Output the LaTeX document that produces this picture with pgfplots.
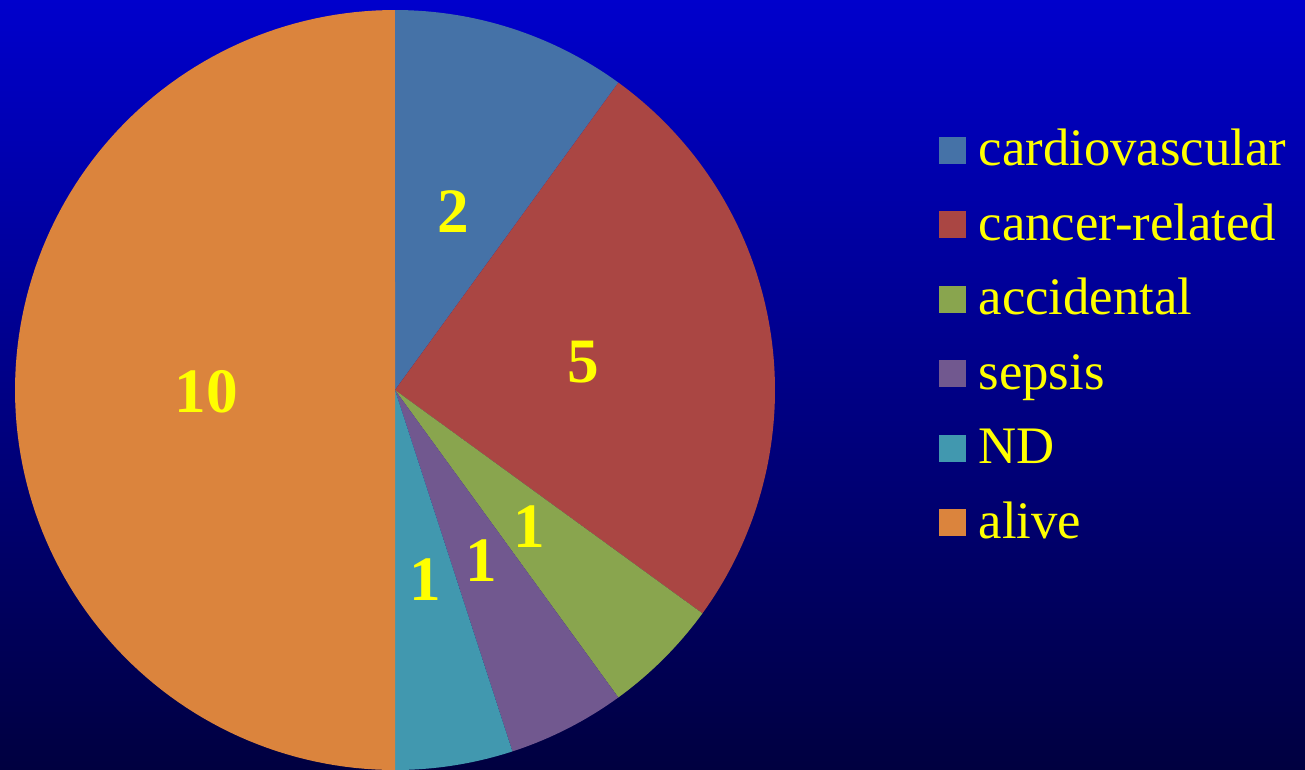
\documentclass[border=0pt]{standalone}
\usepackage{fontspec}
\setmainfont{Liberation Serif}
\usepackage{pgfplots}
\pgfplotsset{compat=1.18}
\definecolor{bgtop}{HTML}{0000CC}
\definecolor{bgbot}{HTML}{000040}
\definecolor{cCV}{HTML}{4572A7}
\definecolor{cCA}{HTML}{AA4643}
\definecolor{cAC}{HTML}{89A54E}
\definecolor{cSE}{HTML}{71588F}
\definecolor{cND}{HTML}{4198AF}
\definecolor{cAL}{HTML}{DB843D}
\definecolor{lab}{HTML}{FFFF00}
\begin{document}
\begin{tikzpicture}
\begin{axis}[
  scale only axis, width=13.05cm, height=7.69cm,
  xmin=0, xmax=1305, ymin=0, ymax=769,
  hide axis,
  legend cell align=left,
  legend image code/.code={\path[#1,draw=none] (0cm,-0.11cm) rectangle (0.27cm,0.16cm);},
  legend style={at={(axis cs:938,654)}, anchor=north west, draw=none, fill=none,
    inner sep=0pt, row sep=0pt, text=lab,
    font=\fontsize{15pt}{17pt}\selectfont,
    nodes={inner sep=0pt, text height=0.5cm, text depth=0.245cm},
    /tikz/every odd column/.style={column sep=0.13cm}},
]
\path[top color=bgtop, bottom color=bgbot] (rel axis cs:0,0) rectangle (rel axis cs:1,1);
% slices: values 2,5,1,1,1,10 (total 20); angle = 18 deg per unit, clockwise from top
\addplot[fill=cCV, draw=none, domain=0:2, samples=40, variable=\t]
  ({395+380*sin(18*\t)},{379+380*cos(18*\t)}) -- (axis cs:395,379) -- cycle;
\addlegendentry{cardiovascular}
\addplot[fill=cCA, draw=none, domain=2:7, samples=80, variable=\t]
  ({395+380*sin(18*\t)},{379+380*cos(18*\t)}) -- (axis cs:395,379) -- cycle;
\addlegendentry{cancer-related}
\addplot[fill=cAC, draw=none, domain=7:8, samples=20, variable=\t]
  ({395+380*sin(18*\t)},{379+380*cos(18*\t)}) -- (axis cs:395,379) -- cycle;
\addlegendentry{accidental}
\addplot[fill=cSE, draw=none, domain=8:9, samples=20, variable=\t]
  ({395+380*sin(18*\t)},{379+380*cos(18*\t)}) -- (axis cs:395,379) -- cycle;
\addlegendentry{sepsis}
\addplot[fill=cND, draw=none, domain=9:10, samples=20, variable=\t]
  ({395+380*sin(18*\t)},{379+380*cos(18*\t)}) -- (axis cs:395,379) -- cycle;
\addlegendentry{ND}
\addplot[fill=cAL, draw=none, domain=10:20, samples=120, variable=\t]
  ({395+380*sin(18*\t)},{379+380*cos(18*\t)}) -- (axis cs:395,379) -- cycle;
\addlegendentry{alive}
\begin{scope}[every node/.style={text=lab, font=\fontsize{18pt}{20pt}\selectfont\bfseries, inner sep=0pt}]
\node at (axis cs:453,557) {2};
\node at (axis cs:583,407) {5};
\node at (axis cs:529,242) {1};
\node at (axis cs:481,208) {1};
\node at (axis cs:425,189) {1};
\node at (axis cs:206,377) {10};
\end{scope}
\end{axis}
\end{tikzpicture}
\end{document}
